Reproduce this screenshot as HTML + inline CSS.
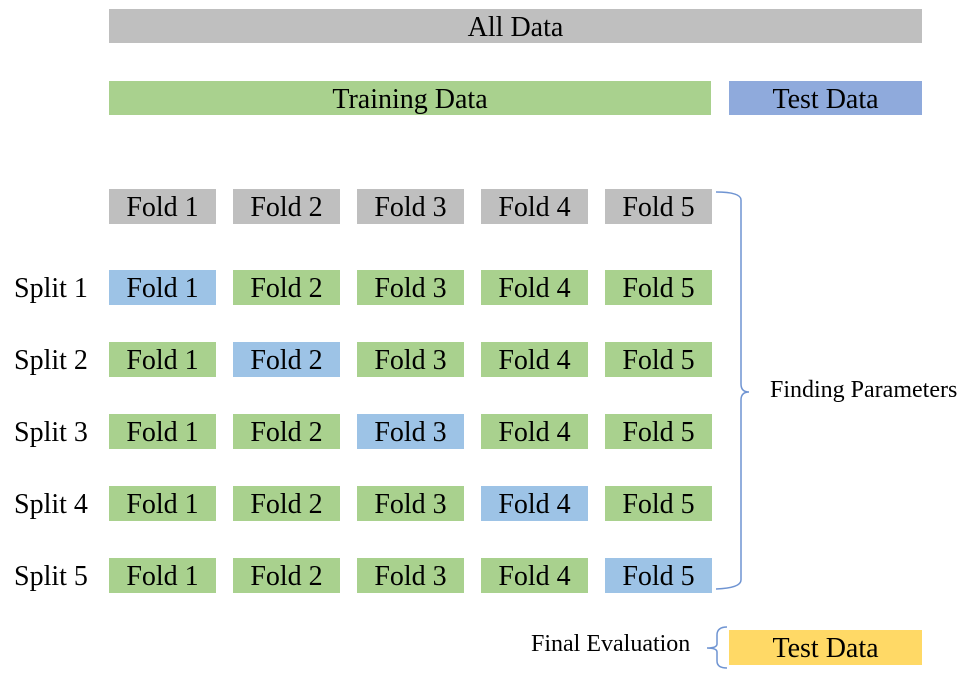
<!DOCTYPE html>
<html><head><style>
body{margin:0;width:961px;height:692px;background:#fff;position:relative;font-family:"Liberation Serif",serif;overflow:hidden}
.b{position:absolute;display:flex;align-items:center;justify-content:center;font-size:28px;color:#000;height:35px;padding-top:3px;box-sizing:border-box}
.g{background:#bfbfbf}.gr{background:#a9d18e}.bl{background:#9dc3e6}.t{background:#8faadc}.y{background:#ffd966}
.l{position:absolute;font-size:28px;height:35px;display:flex;align-items:center;padding-top:3px;box-sizing:border-box}
.s{position:absolute;font-size:24px}
</style></head><body>
<div class="b g" style="left:109px;top:9px;width:813px;height:34px">All Data</div>
<div class="b gr" style="left:109px;top:81px;width:602px;height:34px">Training Data</div>
<div class="b t" style="left:729px;top:81px;width:193px;height:34px">Test Data</div>
<div class="b y" style="left:729px;top:630px;width:193px;height:35px">Test Data</div>
<div id="grid"></div>
<div class="s" style="left:770px;top:377px">Finding Parameters</div>
<div class="s" style="left:531px;top:631px">Final Evaluation</div>
<svg style="position:absolute;left:0;top:0" width="961" height="692">
<path d="M716 192 Q741 192 741 200 L741 384 Q741 392 749 392 Q741 392 741 400 L741 580 Q741 588 716 589" fill="none" stroke="#6f94d2" stroke-width="1.5"/>
<path d="M727 627 Q717 627 717 635 L717 644 Q717 648 707 648 Q717 648 717 652 L717 661 Q717 668 727 668" fill="none" stroke="#6f94d2" stroke-width="1.5"/>
</svg>
<script>
var xs=[109,233,357,481,605],ys=[189,270,342,414,486,558],h='';
for(var r=0;r<6;r++){
 if(r>0)h+='<div class="l" style="left:14px;top:'+ys[r]+'px">Split '+r+'</div>';
 for(var c=0;c<5;c++){var cl=r==0?'g':(c==r-1?'bl':'gr');
 h+='<div class="b '+cl+'" style="left:'+xs[c]+'px;top:'+ys[r]+'px;width:107px">Fold '+(c+1)+'</div>';}
}
document.getElementById('grid').innerHTML=h;
</script>
</body></html>
